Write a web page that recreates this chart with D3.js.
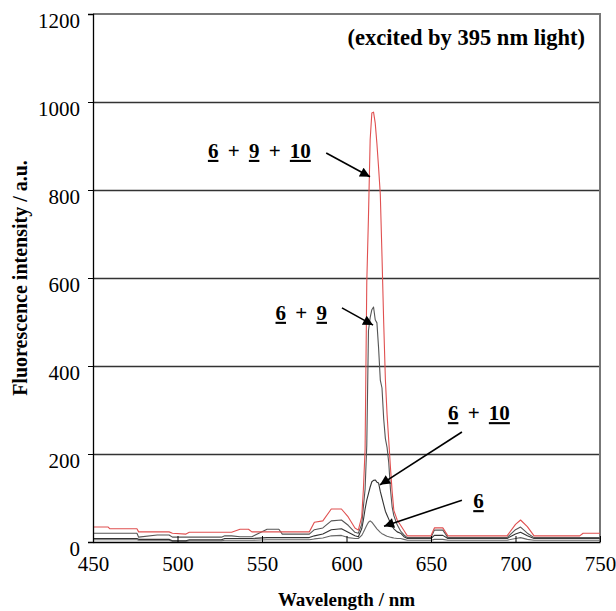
<!DOCTYPE html>
<html>
<head>
<meta charset="utf-8">
<script src="https://cdn.jsdelivr.net/npm/d3@7"></script>
</head>
<body style="margin:0;background:#fff">
<svg id="chart"></svg>
<script>
// wavelength grid (nm) shared by all four spectra
const wavelength = [450, 459, 460, 476, 477, 488, 495, 497, 505, 507, 526, 528, 532, 537, 542, 544, 553, 560, 562, 578,
  581, 586, 591, 597, 601, 605, 607, 609, 610, 611, 612, 613, 614, 615, 616, 617, 618, 619, 620, 621, 622, 623, 624,
  625, 626, 627, 628, 630, 632, 634, 636, 650, 652, 657, 660, 695, 700, 703, 707, 711, 738, 740, 750];

const mix6_9_10 = [34, 34, 30, 30, 23, 23, 23, 20, 18, 22, 22, 22, 22, 29, 29, 23, 23, 23, 23, 23,
  45, 48, 75, 75, 57, 32, 27, 57, 120, 210, 590, 740, 914, 975, 977, 952, 905, 850, 790, 650, 500, 370, 290,
  230, 170, 115, 72, 50, 38, 26, 14, 14, 32, 32, 14, 14, 40, 50, 35, 14, 14, 20, 20];

const mix6_9 = [20, 20, 20, 20, 11, 16, 16, 11, 11, 11, 11, 14, 14, 12, 12, 12, 29, 29, 18, 18,
  28, 32, 48, 50, 38, 22, 20, 40, 80, 120, 220, 480, 510, 528, 534, 505, 498, 440, 368, 350, 280, 235, 215,
  180, 120, 80, 60, 39, 25, 16, 10, 10, 27, 27, 10, 10, 28, 34, 20, 10, 10, 10, 10];

const mix6_10 = [8, 8, 8, 8, 6, 6, 6, 3, 3, 5, 5, 8, 8, 8, 8, 8, 10, 10, 10, 10,
  14, 18, 28, 30, 22, 14, 12, 30, 50, 75, 95, 110, 125, 137, 140, 141, 136, 134, 115, 100, 85, 70, 61,
  52, 43, 36, 30, 23, 20, 12, 8, 8, 15, 15, 8, 8, 18, 22, 14, 8, 8, 8, 8];

const only6 = [5, 5, 5, 5, 4, 4, 4, 2, 2, 3, 3, 4, 4, 4, 4, 4, 5, 5, 5, 5,
  7, 9, 14, 15, 10, 8, 8, 15, 22, 30, 38, 45, 48, 45, 40, 35, 30, 26, 22, 19, 17, 15, 13,
  12, 11, 10, 9, 8, 8, 6, 4, 4, 6, 6, 4, 4, 8, 10, 6, 4, 4, 4, 4];

const xTicks = [450, 500, 550, 600, 650, 700, 750];
const yTicks = [0, 200, 400, 600, 800, 1000, 1200];

const seriesList = [
  { name: "6", values: only6, color: "#666" },
  { name: "6+10", values: mix6_10, color: "#333" },
  { name: "6+9", values: mix6_9, color: "#555" },
  { name: "6+9+10", values: mix6_9_10, color: "#e05050" }
];

// annotation labels: parts (underlined numbers), text anchor and arrow in data units
const labels = [
  { parts: ["6", " + ", "9", " + ", "10"], at: [518, 873], from: [588, 884], to: [613.9, 830] },
  { parts: ["6", " + ", "9"], at: [558, 505], from: [597.3, 532], to: [615.7, 493] },
  { parts: ["6", " + ", "10"], at: [660, 277], from: [668.3, 250], to: [619.8, 130] },
  { parts: ["6"], at: [675, 77], from: [668.3, 95], to: [622.2, 36] }
];

const serif = "Liberation Serif";

const svgWidth = 616, svgHeight = 611;
const margin = { top: 14, right: 16, bottom: 69, left: 93 };
const width = svgWidth - margin.left - margin.right;
const height = svgHeight - margin.top - margin.bottom;

const root = d3.select("#chart")
  .attr("width", svgWidth)
  .attr("height", svgHeight)
  .attr("font-family", serif);

root.append("defs").append("marker")
  .attr("id", "arrow")
  .attr("viewBox", "0 0 10 10")
  .attr("refX", 10)
  .attr("refY", 5)
  .attr("markerWidth", 13)
  .attr("markerHeight", 10)
  .attr("markerUnits", "userSpaceOnUse")
  .attr("orient", "auto")
  .append("path")
  .attr("d", "M0,0 L10,5 L0,10 Z")
  .attr("fill", "#000");

const svg = root.append("g")
  .attr("transform", `translate(${margin.left},${margin.top})`);

const x = d3.scaleLinear().domain([450, 750]).range([0, width]);
const y = d3.scaleLinear().domain([0, 1200]).range([height, 0]);

// horizontal grid
svg.append("g")
  .attr("class", "grid")
  .call(d3.axisLeft(y).tickValues(yTicks.slice(1, -1)).tickSize(-width).tickFormat(""))
  .call(g => g.select(".domain").remove())
  .call(g => g.selectAll("line").attr("stroke", "#333").attr("stroke-width", 1.6));

// frame top + right
svg.append("path")
  .attr("d", `M0,0 H${width} V${height}`)
  .attr("fill", "none")
  .attr("stroke", "#777")
  .attr("stroke-width", 2);

const line = d3.line()
  .x((d, i) => x(wavelength[i]))
  .y(d => y(d));

svg.selectAll(".spec")
  .data(seriesList)
  .enter()
  .append("path")
  .attr("class", "spec")
  .attr("d", d => line(d.values))
  .attr("fill", "none")
  .attr("stroke", d => d.color)
  .attr("stroke-width", 1.1)
  .attr("stroke-linejoin", "round");

// y axis
svg.append("g")
  .call(d3.axisLeft(y).tickValues(yTicks).tickFormat(d3.format("d")).tickSize(5).tickPadding(8))
  .attr("font-family", serif)
  .attr("font-size", 21)
  .call(g => g.select(".domain").attr("stroke", "#000").attr("stroke-width", 1.3))
  .call(g => g.selectAll("line").attr("stroke", "#000"))
  .call(g => g.selectAll("text")
    .attr("dy", "0.82em")
    .attr("y", -4)
    .attr("fill", "#000"));

// x axis, ticks pointing inward
svg.append("g")
  .attr("transform", `translate(0,${height})`)
  .call(d3.axisBottom(x).tickValues(xTicks).tickFormat(d3.format("d")).tickSizeInner(-6).tickSizeOuter(0).tickPadding(14))
  .attr("font-family", serif)
  .attr("font-size", 21)
  .call(g => g.select(".domain").attr("stroke", "#000").attr("stroke-width", 1.3))
  .call(g => g.selectAll("line").attr("stroke", "#000"))
  .call(g => g.selectAll("text").attr("fill", "#000"));

svg.append("text")
  .attr("x", width / 2)
  .attr("y", height + 64)
  .attr("text-anchor", "middle")
  .attr("font-size", 19)
  .attr("font-weight", "bold")
  .text("Wavelength / nm");

svg.append("text")
  .attr("transform", "rotate(-90)")
  .attr("x", -height / 2)
  .attr("y", -margin.left + 27)
  .attr("text-anchor", "middle")
  .attr("font-size", 20)
  .attr("font-weight", "bold")
  .text("Fluorescence intensity / a.u.");

svg.append("text")
  .attr("x", width - 15)
  .attr("y", 31)
  .attr("text-anchor", "end")
  .attr("font-size", 22.5)
  .attr("font-weight", "bold")
  .text("(excited by 395 nm light)");

// annotations
labels.forEach(l => {
  const t = svg.append("text")
    .attr("x", x(l.at[0]))
    .attr("y", y(l.at[1]))
    .attr("font-size", 21)
    .attr("font-weight", "bold")
    .attr("word-spacing", 4)
    .style("white-space", "pre");
  l.parts.forEach((p, i) => {
    t.append("tspan")
      .attr("text-decoration", i % 2 === 0 ? "underline" : null)
      .text(p);
  });
  svg.append("line")
    .attr("x1", x(l.from[0]))
    .attr("y1", y(l.from[1]))
    .attr("x2", x(l.to[0]))
    .attr("y2", y(l.to[1]))
    .attr("stroke", "#000")
    .attr("stroke-width", 1.6)
    .attr("marker-end", "url(#arrow)");
});
</script>
</body>
</html>
